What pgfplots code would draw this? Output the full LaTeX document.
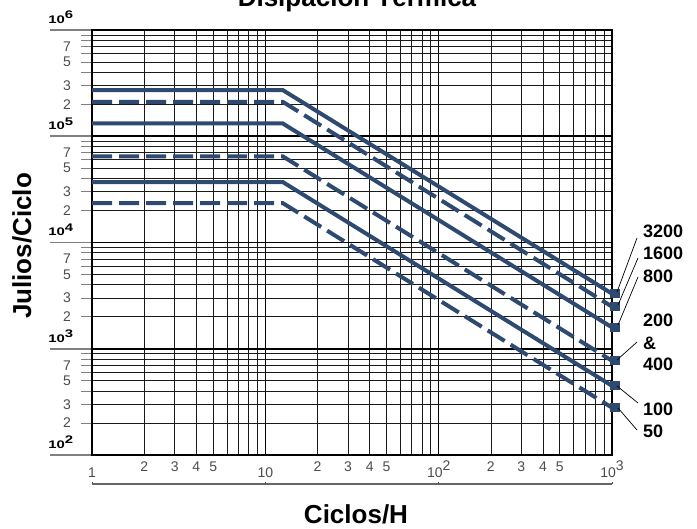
\documentclass[border=0pt]{standalone}
\usepackage{pgfplots}
\pgfplotsset{compat=1.18}
\usepackage{fontspec}
\setmainfont{Liberation Sans}
\definecolor{lc}{RGB}{46,74,112}
\newcommand{\tl}{\fontsize{14bp}{14bp}\selectfont}
\newcommand{\yl}{\fontsize{11bp}{11bp}\selectfont\bfseries}
\newcommand{\rl}{\fontsize{18bp}{18bp}\selectfont\bfseries}
\newcommand{\bigfont}{\fontsize{26bp}{26bp}\selectfont\bfseries}
\begin{document}
\begin{tikzpicture}[x=1bp,y=1bp]
\begin{axis}[
  at={(92bp,-455bp)}, anchor=south west,
  scale only axis, width=520bp, height=425bp,
  xmode=log, ymode=log,
  xmin=1, xmax=1000, ymin=100, ymax=1000000,
  xtick={1,10,100,1000}, ytick={100,1000,10000,100000,1000000},
  xticklabels={}, yticklabels={},
  grid=both,
  major grid style={black, line width=1.5bp},
  minor grid style={black!90, line width=0.7bp},
  axis line style={black, line width=1.4bp},
  tick align=outside,
  xtick style={draw=none},
  ytick pos=left,
  every major tick/.append style={line width=1.5bp},
  every minor tick/.append style={line width=0.7bp},
  major tick length=42bp, minor tick length=11bp,
  clip=false,
]
% solid lines
\addplot[lc, line width=4bp, mark=square*, mark indices={3}, mark size=2.6bp, mark options={solid, xshift=3bp}]
  coordinates {(1,272000) (12.6,272000) (1000,3300)};
\addplot[lc, line width=4bp, mark=square*, mark indices={3}, mark size=2.6bp, mark options={solid, xshift=3bp}]
  coordinates {(1,132000) (12.6,132000) (1000,1590)};
\addplot[lc, line width=4bp, mark=square*, mark indices={3}, mark size=2.6bp, mark options={solid, xshift=3bp}]
  coordinates {(1,37100) (12.6,37100) (1000,448)};
% dashed lines
\addplot[lc, line width=4bp, dash pattern=on 20bp off 7bp, mark=square*, mark indices={3}, mark size=2.6bp, mark options={solid, xshift=3bp}]
  coordinates {(1,211000) (12.6,211000) (1000,2490)};
\addplot[lc, line width=4bp, dash pattern=on 20bp off 7bp, mark=square*, mark indices={3}, mark size=2.6bp, mark options={solid, xshift=3bp}]
  coordinates {(1,64700) (12.6,64700) (1000,771)};
\addplot[lc, line width=4bp, dash pattern=on 20bp off 7bp, mark=square*, mark indices={3}, mark size=2.6bp, mark options={solid, xshift=3bp}]
  coordinates {(1,23500) (12.6,23500) (1000,279)};
\end{axis}

% y major labels
\foreach \e/\py in {2/455,3/348.75,4/242.5,5/136.25,6/30}{
  \node[anchor=base west, inner sep=0, font=\yl, xscale=1.35] at (48,{-(\py-6.5)}) {10\raisebox{0.42em}{\e}};
}
% y minor labels
\foreach \k in {0,1,2,3}{
  \foreach \m in {2,3,5,7}{
    \node[anchor=center, inner sep=0, font=\tl, text=black!70] at (67,{-(455-106.25*(\k+log10(\m)))}) {\m};
  }
}
% x labels
\foreach \k in {0,1,2}{
  \foreach \m in {2,3,4,5}{
    \node[anchor=base, inner sep=0, font=\tl, text=black!70] at ({92+173.333*(\k+log10(\m))},-471) {\m};
  }
}
\node[anchor=base, inner sep=0, font=\tl, text=black!70] at (92,-477) {1};
\node[anchor=base, inner sep=0, font=\tl, text=black!70] at (265.3,-477) {10};
\node[anchor=base, inner sep=0, font=\tl, text=black!70] at (438.7,-477) {10\raisebox{0.45em}{2}};
\node[anchor=base, inner sep=0, font=\tl, text=black!70] at (612,-477) {10\raisebox{0.45em}{3}};
% bracket under x axis
\draw[black!60, line width=1.2bp] (92,-484) -- (612,-484);
\foreach \t in {92,265.3,438.7,612}{
  \draw[black!70, line width=1bp] (\t,-484) -- (\t,-481.5);
}

% titles
\node[anchor=base, inner sep=0, font=\bigfont] at (357,-7) {Disipación Térmica};
\node[anchor=base, inner sep=0, font=\bigfont, rotate=90] at (31,-246) {Julios/Ciclo};
\node[anchor=base, inner sep=0, font=\bigfont] at (356,-523.5) {Ciclos/H};

% right labels
\node[anchor=west, inner sep=0, font=\rl] at (643,-231.7) {3200};
\node[anchor=west, inner sep=0, font=\rl] at (643,-253.3) {1600};
\node[anchor=west, inner sep=0, font=\rl] at (643,-276) {800};
\node[anchor=west, inner sep=0, font=\rl] at (643,-320.7) {200};
\node[anchor=west, inner sep=0, font=\rl] at (643,-343.3) {\&};
\node[anchor=west, inner sep=0, font=\rl] at (643,-364.3) {400};
\node[anchor=west, inner sep=0, font=\rl] at (643,-409.3) {100};
\node[anchor=west, inner sep=0, font=\rl] at (643,-431.7) {50};

% leader lines
\draw[black, line width=0.7bp] (617,-292) -- (637,-238);
\draw[black, line width=0.7bp] (618,-305) -- (638,-258);
\draw[black, line width=0.7bp] (618,-325) -- (638,-277);
\draw[black, line width=0.7bp] (617,-360) -- (637,-342);
\draw[black, line width=0.7bp] (617,-386) -- (638,-403);
\draw[black, line width=0.7bp] (618,-408) -- (637,-430);

\pgfresetboundingbox
\path (0,0) rectangle (697,-529);
\end{tikzpicture}
\end{document}
